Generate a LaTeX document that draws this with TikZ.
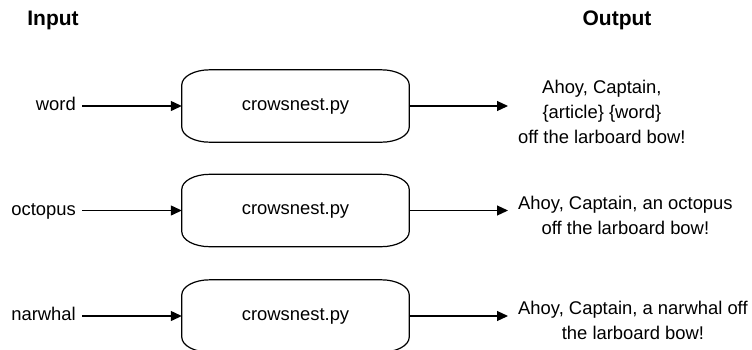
\documentclass[tikz,border=0pt]{standalone}
\usepackage{fontspec}
\setmainfont{Liberation Sans}
\usetikzlibrary{arrows.meta}
\tikzset{
  x=1pt,y=1pt,
  lw/.style={line width=1.2pt},
  arr/.style={lw,-{Triangle[length=11pt,width=10pt]}},
  proc/.style={rectangle,minimum width=227pt,minimum height=72pt,inner sep=0pt,font=\fontsize{18.4}{25}\selectfont},
  inlabel/.style={anchor=east,inner xsep=6pt,inner ysep=0pt,text height=13pt,text depth=4pt,font=\fontsize{18.4}{25}\selectfont},
  outtxt/.style={anchor=west,inner xsep=10pt,inner ysep=0pt,align=center,font=\fontsize{18.4}{25}\selectfont},
  heading/.style={font=\fontsize{21}{25}\selectfont\bfseries,inner sep=0pt},
}
\newcommand\procoutline[1]{%
  \draw[lw] ([yshift=-15pt]#1.north west)
    arc[start angle=180,end angle=90,x radius=28pt,y radius=15pt]
    -- ([xshift=-28pt]#1.north east)
    arc[start angle=90,end angle=0,x radius=28pt,y radius=15pt]
    -- ([yshift=15pt]#1.south east)
    arc[start angle=0,end angle=-90,x radius=28pt,y radius=15pt]
    -- ([xshift=28pt]#1.south west)
    arc[start angle=270,end angle=180,x radius=28pt,y radius=15pt]
    -- cycle;}
\begin{document}
\begin{tikzpicture}
\clip (0,0) rectangle (752,-349);
\fill[white] (0,0) rectangle (752,-349);

\node[heading] (hin) at (53,-20) {Input};
\node[heading] (hout) at (617,-20) {Output};

\node[proc] (b1) at (295.5,-106) {crowsnest.py};
\node[proc] (b2) at (295.5,-210.5) {crowsnest.py};
\node[proc] (b3) at (295.5,-316) {crowsnest.py};
\procoutline{b1}
\procoutline{b2}
\procoutline{b3}

\node[inlabel] (i1) at (82,-106) {word};
\node[inlabel] (i2) at (82,-210.5) {octopus};
\node[inlabel] (i3) at (82,-316) {narwhal};

\node[outtxt] (o1) at (508,-112) {Ahoy, Captain,\\\{article\} \{word\}\\off the larboard bow!};
\node[outtxt] (o2) at (508,-215.5) {Ahoy, Captain, an octopus\\off the larboard bow!};
\node[outtxt] (o3) at (508,-320) {Ahoy, Captain, a narwhal off\\the larboard bow!};

\draw[arr] (i1.east) -- (b1.west);
\draw[arr] (i2.east) -- (b2.west);
\draw[arr] (i3.east) -- (b3.west);
\draw[arr] (b1.east) -- (b1.east -| o1.west);
\draw[arr] (b2.east) -- (b2.east -| o2.west);
\draw[arr] (b3.east) -- (b3.east -| o3.west);
\end{tikzpicture}
\end{document}
